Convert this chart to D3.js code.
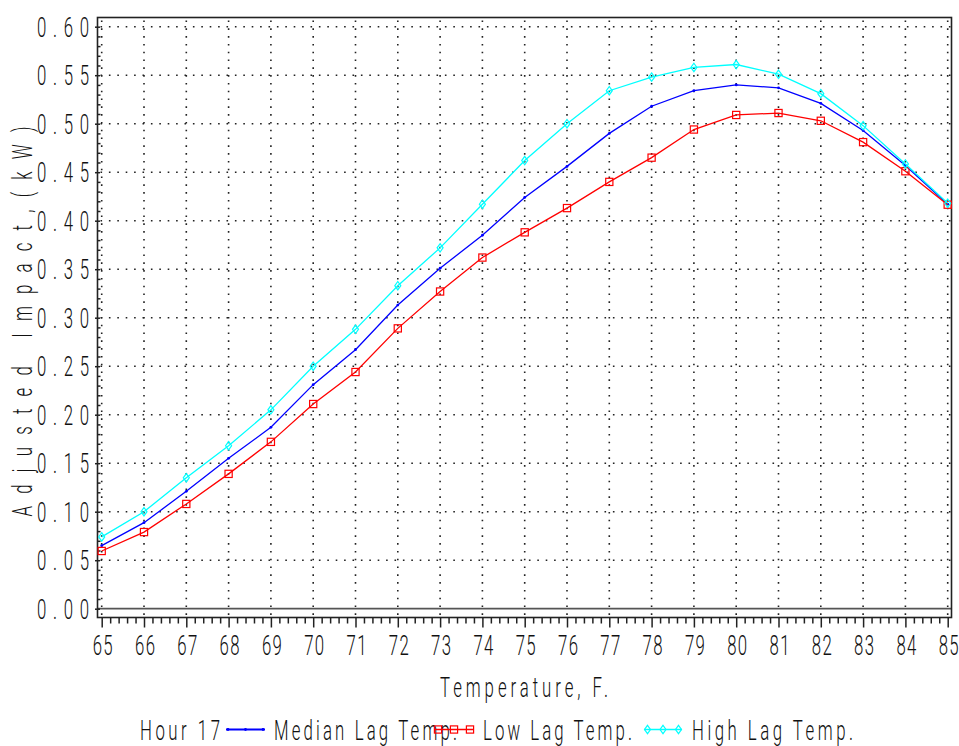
<!DOCTYPE html>
<html><head><meta charset="utf-8">
<script src="https://cdn.jsdelivr.net/npm/d3@7"></script>
<style>body{margin:0;background:#fff}</style>
</head><body>
<svg id="c" width="959" height="746"></svg>
<script>
const temperature = [65,66,67,68,69,70,71,72,73,74,75,76,77,78,79,80,81,82,83,84,85];
const medianLag = [0.065,0.0887,0.121,0.155,0.187,0.231,0.267,0.313,0.351,0.385,0.424,0.456,0.490,0.518,0.534,0.540,0.537,0.521,0.493,0.457,0.417];
const lowLag    = [0.0595,0.079,0.108,0.139,0.172,0.211,0.244,0.289,0.327,0.362,0.388,0.413,0.440,0.465,0.494,0.509,0.511,0.503,0.481,0.451,0.4165];
const highLag   = [0.074,0.100,0.135,0.168,0.205,0.250,0.288,0.333,0.372,0.417,0.462,0.500,0.534,0.548,0.558,0.561,0.551,0.531,0.498,0.4585,0.418];
const yTicks = [0,0.05,0.10,0.15,0.20,0.25,0.30,0.35,0.40,0.45,0.50,0.55,0.60];
const yTickLabels = ["0.00","0.05","0.10","0.15","0.20","0.25","0.30","0.35","0.40","0.45","0.50","0.55","0.60"];
const xTickLabels = ["65","66","67","68","69","70","71","72","73","74","75","76","77","78","79","80","81","82","83","84","85"];
const seriesNames = ["Median Lag Temp.","Low Lag Temp.","High Lag Temp."];
const seriesColors = ["#0000ff","#ff0000","#00ffff"];
const legendTitle = "Hour 17";
const xTitle = "Temperature, F.";
const yTitle = "Adjusted Impact,(kW)";

const svg = d3.select("#c");
const FX0=97.5, FX1=951.5, FY0=17.5, FY1=617.5;
const x = d3.scaleLinear().domain([65,85]).range([101.7,947.7]);
const y = d3.scaleLinear().domain([0,0.6]).range([608.7,26.7]);
const FONT = "Roboto, 'DejaVu Sans', sans-serif";
const SX = 0.6;
function ctext(parent, str, px, py, width, anchor, rotate) {
  return parent.append("text")
    .attr("transform", `translate(${px},${py})${rotate?` rotate(${rotate})`:""} scale(${SX},1)`)
    .attr("font-family", FONT).attr("font-size", 28).attr("font-weight", 300).attr("fill","#111")
    .attr("text-anchor", anchor).attr("textLength", width/SX).attr("lengthAdjust","spacing")
    .text(str);
}

// gridlines
const grid = svg.append("g");
grid.selectAll(".hg").data(yTicks.filter(v=>v>0)).join("line")
  .attr("x1",FX0+3).attr("x2",FX1).attr("y1",d=>y(d)).attr("y2",d=>y(d))
  .attr("stroke","#222").attr("stroke-width",1.6).attr("stroke-dasharray","1.6,6.8");
grid.selectAll(".vg").data(temperature).join("line")
  .attr("x1",d=>x(d)).attr("x2",d=>x(d)).attr("y1",FY0+3).attr("y2",FY1)
  .attr("stroke","#222").attr("stroke-width",1.6).attr("stroke-dasharray","1.6,6.2");
grid.append("line").attr("x1",FX0).attr("x2",FX1).attr("y1",y(0)).attr("y2",y(0))
  .attr("stroke","#555").attr("stroke-width",1.8);

// axes ticks
const yMajor = svg.append("g").attr("transform",`translate(100,0)`)
  .call(d3.axisLeft(y).tickValues(yTicks).tickSize(5).tickFormat(""));
const yMinor = svg.append("g").attr("transform",`translate(100.5,0)`)
  .call(d3.axisLeft(y).tickValues(y.ticks(60).filter(v=>Math.abs(v*20-Math.round(v*20))>1e-6)).tickSize(3).tickFormat(""));
const xMajor = svg.append("g").attr("transform",`translate(0,${FY1})`)
  .call(d3.axisBottom(x).tickValues(temperature).tickSize(10).tickFormat(""));
const xMinor = svg.append("g").attr("transform",`translate(0,${FY1})`)
  .call(d3.axisBottom(x).tickValues(x.ticks(80).filter(v=>Math.abs(v-Math.round(v))>1e-6)).tickSize(6).tickFormat(""));
[yMajor,yMinor,xMajor,xMinor].forEach(g=>{
  g.select(".domain").remove();
  g.selectAll("line").attr("stroke","#222").attr("stroke-width",1.5);
});

// frame
svg.append("rect").attr("x",FX0).attr("y",FY0).attr("width",FX1-FX0).attr("height",FY1-FY0)
  .attr("fill","none").attr("stroke","#222").attr("stroke-width",1.6);

// tick labels
const labels = svg.append("g");
yTicks.forEach((v,i)=>ctext(labels, yTickLabels[i], 89, y(v)+10, 52, "end"));
temperature.forEach((v,i)=>ctext(labels, xTickLabels[i], x(v)+1, 655, 20, "middle"));
ctext(labels, xTitle, 524, 697, 168, "middle");
ctext(labels, yTitle, 32, 321.5, 390, "middle", -90);

// series
const series = [medianLag, lowLag, highLag];
const line = d3.line().x((d,i)=>x(temperature[i])).y(d=>y(d));
const diamond = "M0,-4.2L3,0L0,4.2L-3,0Z";
function drawMarker(g, k, cx, cy) {
  if (k===0) g.append("circle").attr("cx",cx).attr("cy",cy).attr("r",1.4).attr("fill",seriesColors[0]);
  else if (k===1) g.append("rect").attr("x",cx-3.6).attr("y",cy-3.6).attr("width",7.2).attr("height",7.2)
      .attr("fill","none").attr("stroke",seriesColors[1]).attr("stroke-width",1.2);
  else g.append("path").attr("d",diamond).attr("transform",`translate(${cx},${cy})`)
      .attr("fill","none").attr("stroke",seriesColors[2]).attr("stroke-width",1.2);
}
series.forEach((s,k)=>{
  const g = svg.append("g");
  g.append("path").datum(s).attr("d",line).attr("fill","none")
    .attr("stroke",seriesColors[k]).attr("stroke-width",1.3);
  s.forEach((v,i)=>drawMarker(g,k,x(temperature[i]),y(v)));
});

// legend
const lg = svg.append("g");
const LY = 729.5;
ctext(lg, legendTitle, 140, 740, 80, "start");
ctext(lg, seriesNames[0], 274, 740, 183, "start");
ctext(lg, seriesNames[1], 483, 740, 149, "start");
ctext(lg, seriesNames[2], 692, 740, 161, "start");
const legendSpots = [[226,265],[434.5,473.5],[644,682]];
legendSpots.forEach((sp,k)=>{
  lg.append("line").attr("x1",sp[0]).attr("x2",sp[1]).attr("y1",LY).attr("y2",LY)
    .attr("stroke",seriesColors[k]).attr("stroke-width",k===0?2:1.3);
  const m = (sp[0]+sp[1])/2, off = k===0?0:(sp[1]-sp[0])/2-3.5;
  if (k===0) { [sp[0]+2,m,sp[1]-2].forEach(cx=>drawMarker(lg,0,cx,LY)); }
  else { [m-off,m,m+off].forEach(cx=>drawMarker(lg,k,cx,LY)); }
});
</script>
</body></html>
